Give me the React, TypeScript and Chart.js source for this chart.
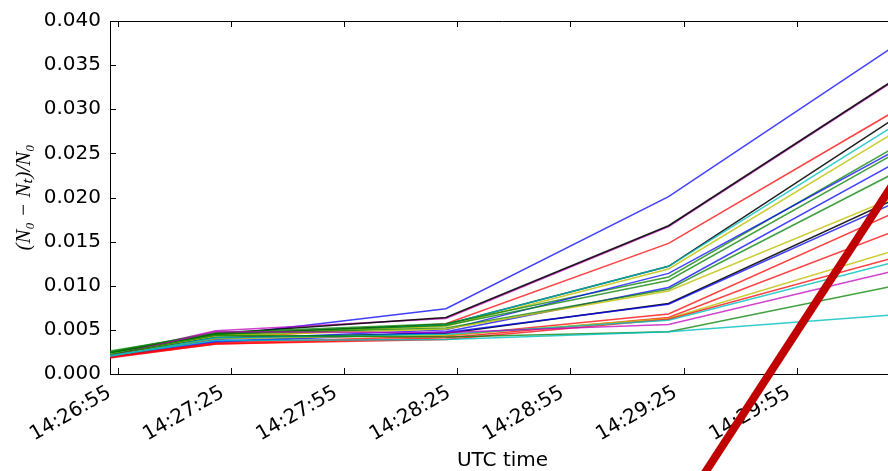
import React, { useEffect, useRef } from "react";
import { Chart, registerables } from "chart.js";

Chart.register(...registerables);

// seconds relative to 14:26:55 UTC
const BASE_SECONDS = 14 * 3600 + 26 * 60 + 55;
const SAMPLE_TIMES = [-2, 26, 87, 146, 206];
const X_MIN = -2;
const X_MAX = 206;
const X_TICKS = [0, 30, 60, 90, 120, 150, 180];
const Y_TICKS = [0, 0.005, 0.01, 0.015, 0.02, 0.025, 0.03, 0.035, 0.04];

const SERIES_COLORS = [
  "b", "m", "k", "r", "k", "c", "y", "g", "b", "g", "b", "g",
  "y", "k", "b", "r", "r", "y", "r", "c", "m", "g", "c",
];

const SERIES_VALUES: number[][] = [
  [0.0022, 0.0043, 0.0074, 0.0201, 0.0372],
  [0.0022, 0.0049, 0.0063, 0.0167, 0.0333],
  [0.0023, 0.0046, 0.0064, 0.0168, 0.0334],
  [0.0021, 0.004, 0.0057, 0.0148, 0.0298],
  [0.0024, 0.0045, 0.0056, 0.0122, 0.029],
  [0.0023, 0.0042, 0.0056, 0.0122, 0.0282],
  [0.0022, 0.0044, 0.0054, 0.0119, 0.0274],
  [0.0025, 0.0047, 0.0057, 0.011, 0.0257],
  [0.0021, 0.0039, 0.005, 0.0114, 0.0253],
  [0.0026, 0.0046, 0.0055, 0.0106, 0.025],
  [0.002, 0.0037, 0.0048, 0.0098, 0.0239],
  [0.0024, 0.0045, 0.0052, 0.0096, 0.0228],
  [0.0022, 0.0043, 0.0051, 0.0094, 0.02],
  [0.0021, 0.0041, 0.0046, 0.008, 0.0198],
  [0.0019, 0.0036, 0.0047, 0.0079, 0.0194],
  [0.002, 0.0035, 0.0043, 0.0068, 0.0183],
  [0.0019, 0.0034, 0.0041, 0.0064, 0.0162],
  [0.0021, 0.004, 0.0044, 0.0063, 0.014],
  [0.0018, 0.0034, 0.0039, 0.0062, 0.0132],
  [0.002, 0.0041, 0.0045, 0.0061, 0.0127],
  [0.0021, 0.0048, 0.0047, 0.0056, 0.0117],
  [0.0022, 0.0044, 0.0042, 0.0048, 0.01],
  [0.0021, 0.0038, 0.0039, 0.0048, 0.0067],
];

// thick dark red overlay stroke
const OVERLAY_TIMES = [150, 215];
const OVERLAY_VALUES = [-0.0149, 0.0278];

const COLOR_MAP: Record<string, string> = {
  b: "rgba(0,0,255,0.75)",
  g: "rgba(0,128,0,0.75)",
  r: "rgba(255,0,0,0.75)",
  c: "rgba(0,191,191,0.8)",
  m: "rgba(191,0,191,0.75)",
  y: "rgba(191,191,0,0.8)",
  k: "rgba(0,0,0,0.88)",
};

function fmtTime(v: number): string {
  const t = Math.round(BASE_SECONDS + v);
  const h = Math.floor(t / 3600);
  const m = Math.floor((t % 3600) / 60);
  const s = t % 60;
  const p = (n: number) => String(n).padStart(2, "0");
  return `${p(h)}:${p(m)}:${p(s)}`;
}

const framePlugin = {
  id: "mplFrame",
  beforeDatasetsDraw(chart: any) {
    const { ctx, chartArea } = chart;
    const { left, top, right, bottom } = chartArea;
    const xs = chart.scales.x;
    const ys = chart.scales.y;
    const L = 6;
    ctx.save();
    ctx.strokeStyle = "#000";
    ctx.lineWidth = 1;
    ctx.beginPath();
    ctx.moveTo(left, Math.round(top) + 0.5);
    ctx.lineTo(right, Math.round(top) + 0.5);
    ctx.moveTo(Math.round(right) - 0.5, top);
    ctx.lineTo(Math.round(right) - 0.5, bottom);
    xs.ticks.forEach((t: any) => {
      const px = Math.round(xs.getPixelForValue(t.value)) + 0.5;
      ctx.moveTo(px, bottom);
      ctx.lineTo(px, bottom - L);
      ctx.moveTo(px, top);
      ctx.lineTo(px, top + L);
    });
    ys.ticks.forEach((t: any) => {
      const py = Math.round(ys.getPixelForValue(t.value)) + 0.5;
      ctx.moveTo(left, py);
      ctx.lineTo(left + L, py);
      ctx.moveTo(right, py);
      ctx.lineTo(right - L, py);
    });
    ctx.stroke();
    ctx.restore();
  },
};

export default function App() {
  const ref = useRef<HTMLCanvasElement | null>(null);

  useEffect(() => {
    if (!ref.current) return;
    const n = SERIES_VALUES.length;
    const datasets: any[] = SERIES_VALUES.map((vals, i) => ({
      data: vals.map((v, j) => ({ x: SAMPLE_TIMES[j], y: v })),
      borderColor: COLOR_MAP[SERIES_COLORS[i]],
      borderWidth: 1.5,
      pointRadius: 0,
      tension: 0,
      fill: false,
      order: n - i + 1,
    }));
    datasets.push({
      data: OVERLAY_VALUES.map((v, j) => ({ x: OVERLAY_TIMES[j], y: v })),
      borderColor: "#c00000",
      borderWidth: 8,
      pointRadius: 0,
      tension: 0,
      fill: false,
      clip: false,
      borderCapStyle: "butt",
      order: 0,
    });

    const chart = new Chart(ref.current, {
      type: "line",
      data: { datasets },
      plugins: [framePlugin],
      options: {
        responsive: false,
        animation: false,
        layout: { padding: { left: 0, top: 19, right: 0, bottom: 0 } },
        plugins: { legend: { display: false }, tooltip: { enabled: false } },
        scales: {
          x: {
            type: "linear",
            min: X_MIN,
            max: X_MAX,
            afterBuildTicks: (scale: any) => {
              scale.ticks = X_TICKS.map((v) => ({ value: v }));
            },
            afterFit: (scale: any) => {
              scale.height = 97;
            },
            grid: { drawOnChartArea: false, drawTicks: false },
            border: { display: true, color: "#000", width: 1 },
            ticks: {
              autoSkip: false,
              minRotation: 30,
              maxRotation: 30,
              padding: 7,
              labelOffset: -8,
              color: "#000",
              font: { family: "DejaVu Sans", size: 20 },
              callback: (v: any) => fmtTime(Number(v)),
            },
            title: {
              display: true,
              text: "UTC time",
              color: "#000",
              font: { family: "DejaVu Sans", size: 20, lineHeight: 1.05 },
              padding: { top: 0, bottom: 0 },
            },
          },
          y: {
            type: "linear",
            min: 0,
            max: 0.04,
            afterBuildTicks: (scale: any) => {
              scale.ticks = Y_TICKS.map((v) => ({ value: v }));
            },
            afterFit: (scale: any) => {
              scale.width = 110;
            },
            grid: { drawOnChartArea: false, drawTicks: false },
            border: { display: true, color: "#000", width: 1 },
            ticks: {
              padding: 9,
              color: "#000",
              font: { family: "DejaVu Sans", size: 20 },
              callback: (v: any) => Number(v).toFixed(3),
            },
            title: {
              display: true,
              text: "(N₀ − Nₜ)/N₀",
              color: "#000",
              font: { family: "Liberation Serif", size: 21, style: "italic" },
              padding: { top: 12, bottom: 0 },
            },
          },
        },
      },
    });
    return () => chart.destroy();
  }, []);

  return (
    <div
      style={{
        position: "absolute",
        left: 0,
        top: 0,
        width: 888,
        height: 471,
        overflow: "hidden",
        background: "#fff",
      }}
    >
      <canvas ref={ref} width={895} height={471} style={{ display: "block" }} />
    </div>
  );
}
